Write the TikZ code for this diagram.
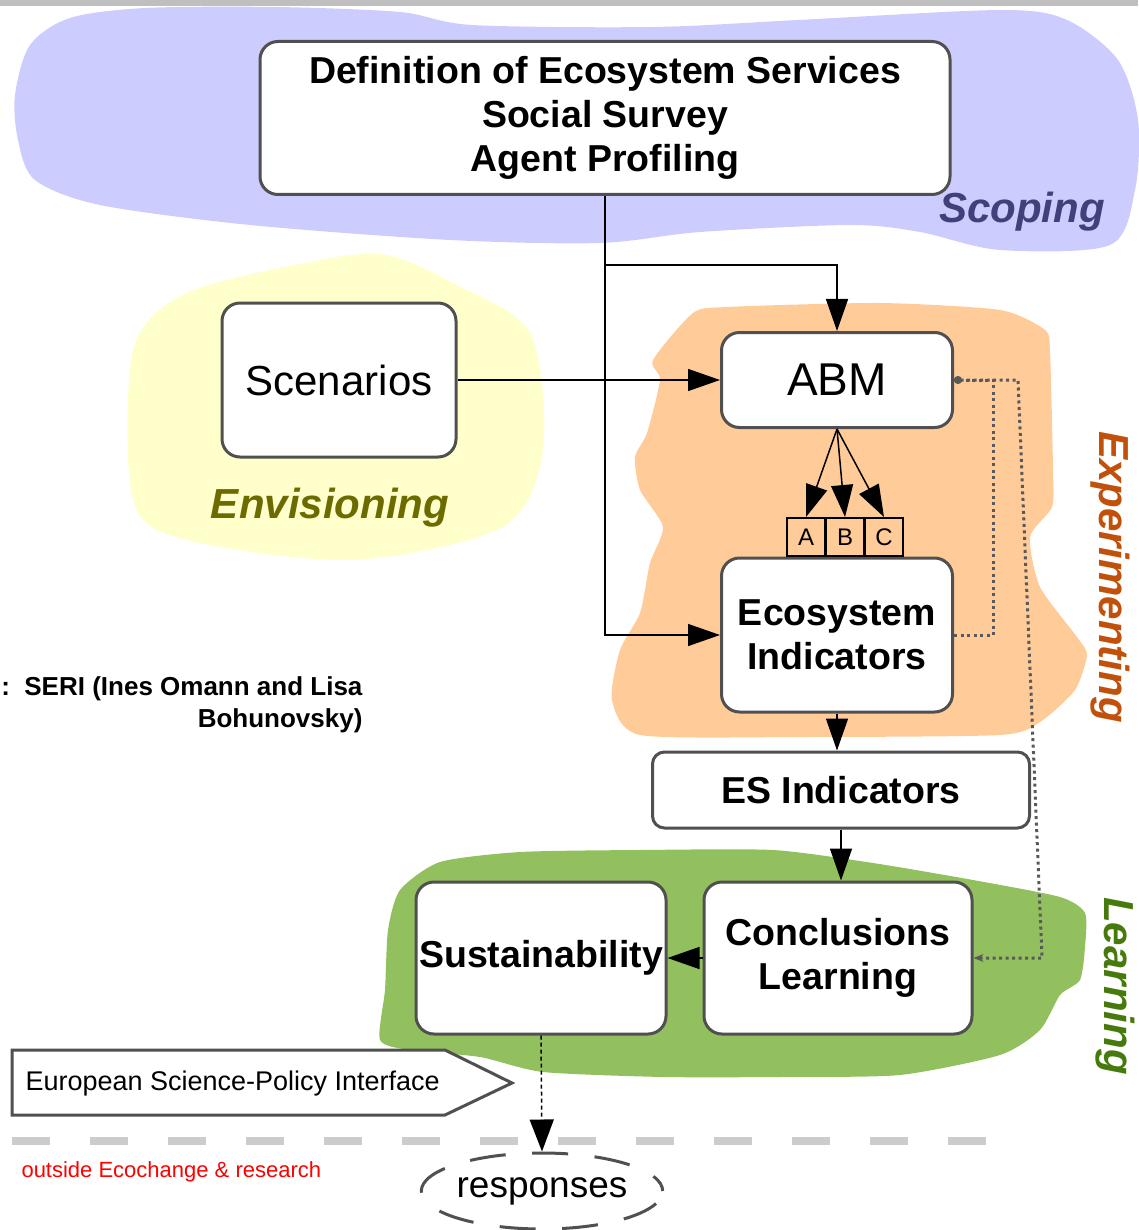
\documentclass[tikz,border=0pt]{standalone}
\usepackage{fontspec}
\setmainfont{Liberation Sans}
\usetikzlibrary{arrows.meta,shapes.geometric}

\definecolor{scopeblue}{HTML}{CCCCFF}
\definecolor{envyellow}{HTML}{FFFFCC}
\definecolor{exppeach}{HTML}{FFCC99}
\definecolor{learngreen}{HTML}{93C05E}
\definecolor{boxgray}{HTML}{505050}
\definecolor{scopetext}{HTML}{40407A}
\definecolor{envtext}{HTML}{6B6B00}
\definecolor{exptext}{HTML}{C0500A}
\definecolor{learntext}{HTML}{467A0C}

\tikzset{
  stagebox/.style={draw=boxgray, line width=3pt, fill=white, rounded corners=18pt, align=center, inner sep=0pt},
  boldtxt/.style={font=\fontsize{37.5}{44}\selectfont\bfseries},
  plaintxt/.style={font=\fontsize{42}{48}\selectfont},
  phase/.style={font=\fontsize{42}{48}\selectfont\bfseries\itshape},
  variant/.style={draw, line width=2pt, fill=exppeach, minimum size=38pt, inner sep=0pt, font=\fontsize{24}{28}\selectfont},
  flow/.style={line width=1.5pt, -{Triangle[length=32pt,width=22pt]}},
  feedback/.style={draw=black!65, line width=3pt, dash pattern=on 3pt off 3.5pt},
}

\begin{document}
\begin{tikzpicture}[x=1pt,y=-1pt]
    \useasboundingbox (0,0) rectangle (1138,1230);
    \fill[black!25] (0,0) rectangle (1138,6);

    \fill[scopeblue] plot[smooth cycle, tension=0.5] coordinates {(30,45) (70,18) (145,8) (276,7) (400,12) (472,25) (653,27) (798,20) (1001,10) (1067,20) (1118,60) (1138,120) (1135,190) (1110,245) (1000,250) (920,232) (850,225) (700,232) (600,243) (450,240) (250,225) (100,205) (35,180) (18,140) (15,95)};
    \fill[envyellow] plot[smooth cycle, tension=0.5] coordinates {(387,255) (453,283) (530,333) (543,450) (503,527) (353,560) (187,540) (133,500) (133,350) (187,293) (320,260)};
    \fill[exppeach] plot[smooth cycle, tension=0.4] coordinates {(693,313) (727,307) (880,303) (1000,310) (1045,330) (1050,353) (1053,470) (1052,507) (1030,537) (1040,587) (1077,637) (1087,655) (1075,690) (1040,722) (1000,735) (800,737) (640,735) (612,700) (620,650) (640,613) (650,563) (663,527) (640,490) (635,457) (647,433) (660,380) (653,360)};
    \fill[learngreen] plot[smooth cycle, tension=0.4] coordinates {(640,850) (773,850) (873,863) (973,880) (1060,897) (1085,913) (1085,947) (1080,980) (1060,995) (1040,1030) (1000,1055) (900,1075) (780,1077) (663,1077) (543,1072) (480,1057) (410,1050) (380,1040) (385,990) (388,930) (400,890) (440,862) (520,852)};

    \node[stagebox, boldtxt, minimum width=690pt, minimum height=153pt] (def) at (605,118) {Definition of Ecosystem Services\\Social Survey\\Agent Profiling};
    \node[stagebox, plaintxt, minimum width=234pt, minimum height=154pt] (scen) at (339,380) {Scenarios};
    \node[stagebox, font=\fontsize{46}{52}\selectfont, minimum width=231pt, minimum height=95pt] (abm) at (837,380) {ABM};
    \node[stagebox, boldtxt, minimum width=231pt, minimum height=154pt] (eco) at (837,635) {Ecosystem\\Indicators};
    \node[stagebox, boldtxt, rounded corners=12pt, minimum width=377pt, minimum height=76pt] (esi) at (841,790) {ES Indicators};
    \node[stagebox, boldtxt, minimum width=250pt, minimum height=152pt] (sus) at (541,958) {Sustainability};
    \node[stagebox, boldtxt, minimum width=268pt, minimum height=152pt] (concl) at (838,958) {Conclusions\\Learning};

    \node[variant] (va) at (806,537) {A};
    \node[variant] (vb) at (845,537) {B};
    \node[variant] (vc) at (884,537) {C};

    \coordinate (split) at (605,265);
    \draw[flow] (def.south) |- (eco.west);
    \draw[flow] (split) -| (abm.north);
    \draw[flow] (scen.east) -- (abm.west);
    \draw[flow] (abm.south) -- (va.north);
    \draw[flow] (abm.south) -- (vb.north);
    \draw[flow] (abm.south) -- (vc.north);
    \draw[flow] (eco.south) -- (eco.south |- esi.north);
    \draw[flow] (esi.south) -- (esi.south |- concl.north);
    \draw[flow] (concl.west) -- (sus.east);

    \coordinate (fbturn) at (993,380);
    \coordinate (fbtop) at (1018,380);
    \coordinate (fbbottom) at (1042,958);
    \draw[feedback, -{Circle[length=8pt]}] (eco.east) -| (fbturn) -- (abm.east);
    \draw[feedback, -{Stealth[length=10pt,width=8pt]}] (abm.east) -- (fbtop) -- (fbbottom) -- (concl.east);

    \draw[black!20, line width=8pt, dash pattern=on 38pt off 40pt] (12,1141) -- (988,1141);

    \draw[boxgray, line width=3pt, fill=white] (12,1050) -- (445,1050) -- (512,1083) -- (445,1115) -- (12,1115) -- cycle;
    \node[anchor=west, font=\fontsize{27}{30}\selectfont] (espi) at (22,1084) {European Science-Policy Interface};

    \node[ellipse, draw=boxgray, line width=3pt, dash pattern=on 36pt off 26.55pt, dash phase=18pt, minimum width=224pt, minimum height=76pt, inner sep=0pt, font=\fontsize{37}{42}\selectfont] (resp) at (542,1191) {responses};
    \draw[line width=1.5pt, dash pattern=on 4pt off 3pt, -{Triangle[length=32pt,width=24pt]}] (sus.south) -- (resp.north);

    \node[phase, text=scopetext] (scoping) at (1022,212) {Scoping};
    \node[phase, text=envtext] (envis) at (330,508) {Envisioning};
    \node[phase, text=exptext, rotate=-90] (exper) at (1110,577) {Experimenting};
    \node[phase, text=learntext, rotate=-90] (learn) at (1115,986) {Learning};

    \node[anchor=west, text=red, font=\fontsize{22}{26}\selectfont] (outside) at (18,1172) {outside Ecochange \& research};
    \node[anchor=east, align=right, font=\fontsize{26}{32}\selectfont\bfseries] (credit) at (366,705) {:\ \ SERI (Ines Omann and Lisa\\Bohunovsky)};
\end{tikzpicture}
\end{document}
